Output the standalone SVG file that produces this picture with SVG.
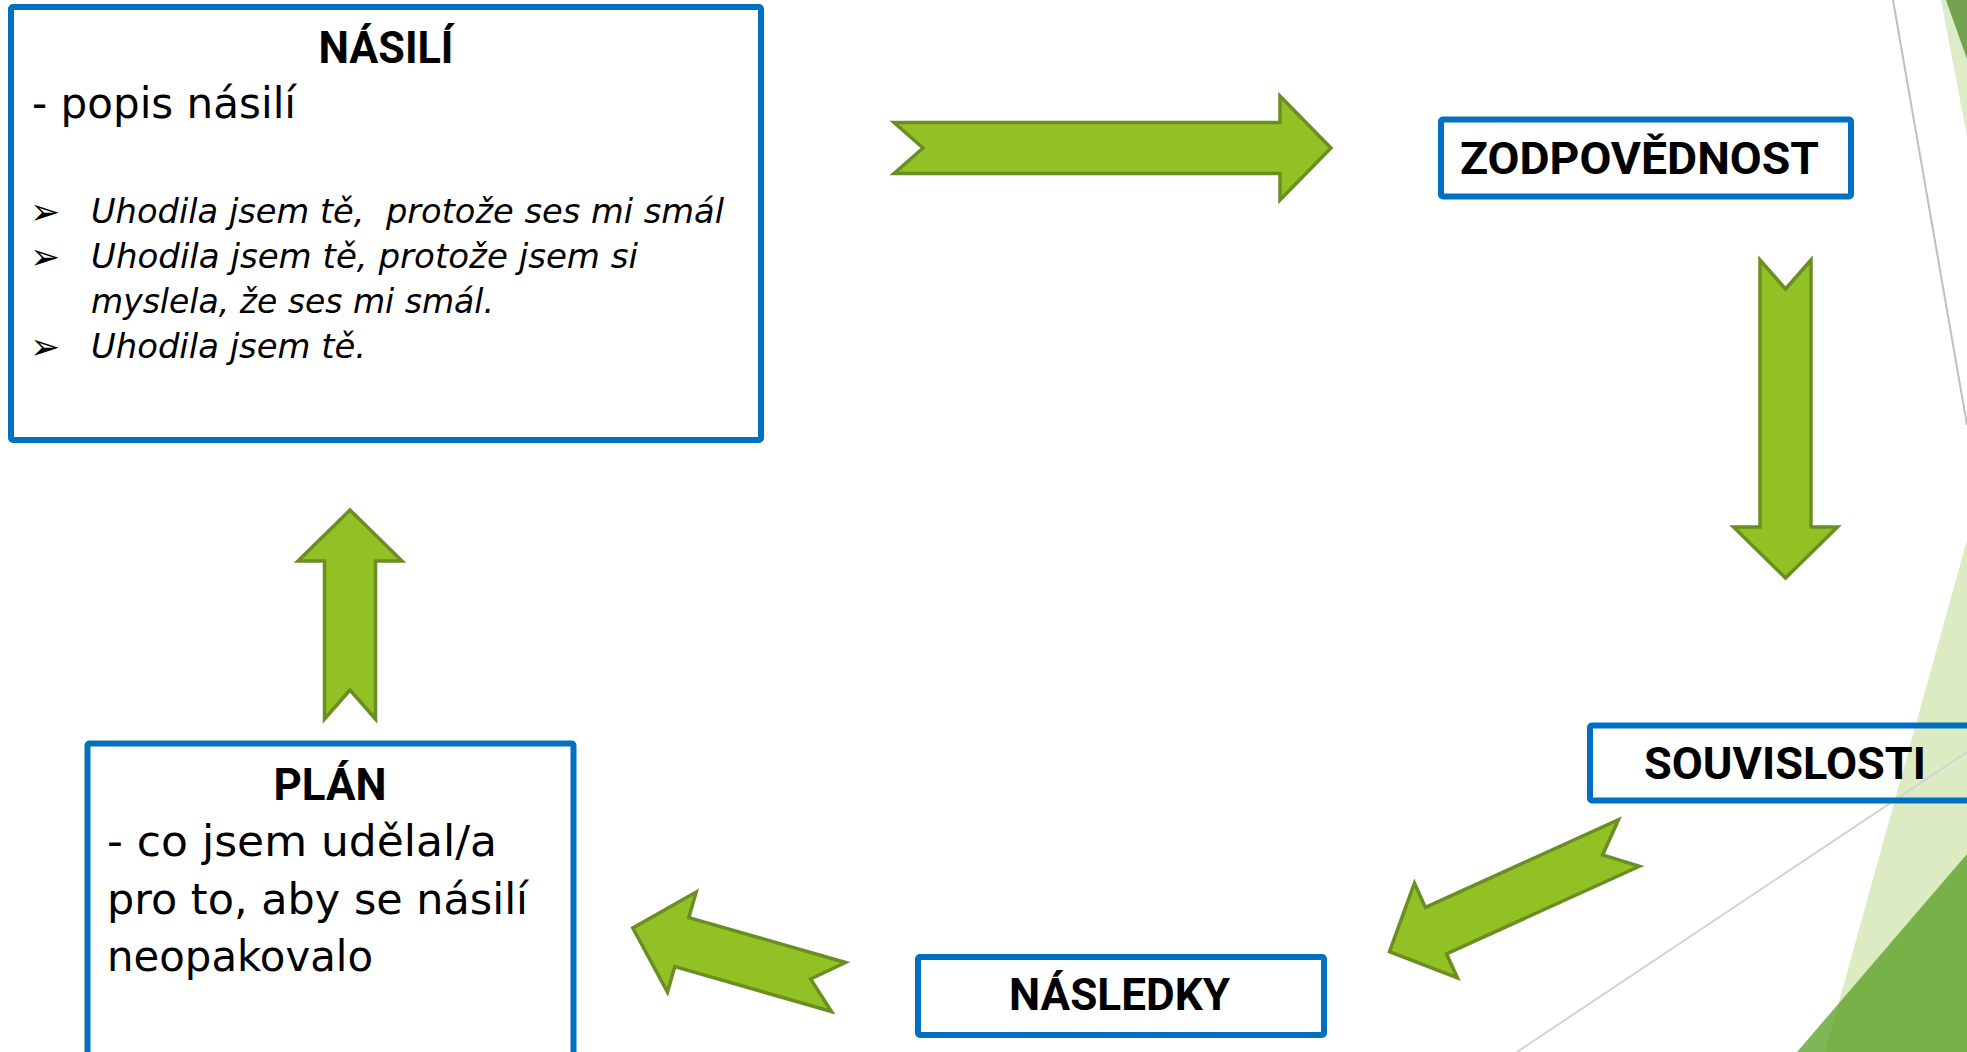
<svg xmlns="http://www.w3.org/2000/svg" width="1967" height="1052" viewBox="0 0 1967 1052">
<style>
.box{fill:none;stroke:#0070C0;stroke-width:6}
.arrow{fill:#92C125;stroke:#6B8E23;stroke-width:3.5;stroke-linejoin:miter}
.title{font-family:Roboto,"DejaVu Sans",sans-serif;font-weight:bold;fill:#000}
.body{font-family:"DejaVu Sans",sans-serif;fill:#000}
.it{font-family:"DejaVu Sans",sans-serif;font-style:italic;fill:#000;white-space:pre}
.bul{font-family:"DejaVu Sans",sans-serif;fill:#000}
</style>
<rect width="1967" height="1052" fill="#FFFFFF"/>
<g id="background">
<polygon points="1941,0 1967,0 1967,136" fill="#DDEBC6"/>
<polygon points="1946,0 1967,0 1967,59" fill="#73A150"/>
<line x1="1893" y1="0" x2="1967" y2="425" stroke="#BFBFBF" stroke-width="2"/>
<polygon points="1967,540 1825,1052 1967,1052" fill="#DDEBC2"/>
<polygon points="1967,854 1797,1052 1967,1052" fill="#509A18" fill-opacity="0.72"/>
<line x1="1517" y1="1052" x2="1967" y2="752" stroke="#D3D3D3" stroke-width="2"/>
</g>
<g id="connectors">
<polygon class="arrow" transform="translate(894,148)" points="0,-25.5 386,-25.5 386,-52 437,0 386,52 386,25.5 0,25.5 29,0"/>
<polygon class="arrow" transform="translate(1785.5,260) rotate(90)" points="0,-25.5 267,-25.5 267,-52 318,0 267,52 267,25.5 0,25.5 29,0"/>
<polygon class="arrow" transform="translate(1629,843) rotate(155.6)" points="0,-25.5 212,-25.5 212,-52 263,0 212,52 212,25.5 0,25.5 29,0"/>
<polygon class="arrow" transform="translate(838.5,987) rotate(196)" points="0,-25.5 163,-25.5 163,-52 214,0 163,52 163,25.5 0,25.5 29,0"/>
<polygon class="arrow" transform="translate(350,719) rotate(-90)" points="0,-25.5 158,-25.5 158,-52 209,0 158,52 158,25.5 0,25.5 29,0"/>
</g>
<g id="node-nasili">
<rect class="box" x="11" y="7" width="750" height="433" rx="2"/>
<text class="title" x="386" y="63" font-size="44" text-anchor="middle" textLength="135" lengthAdjust="spacingAndGlyphs">NÁSILÍ</text>
<text class="body" x="32" y="118" font-size="42" textLength="264" lengthAdjust="spacingAndGlyphs">- popis násilí</text>
<text class="bul" x="30" y="224" font-size="36">➢</text>
<text class="it" x="91" y="223" font-size="34" textLength="633" lengthAdjust="spacingAndGlyphs" xml:space="preserve">Uhodila jsem tě,  protože ses mi smál</text>
<text class="bul" x="30" y="269" font-size="36">➢</text>
<text class="it" x="91" y="268" font-size="34" textLength="547" lengthAdjust="spacingAndGlyphs">Uhodila jsem tě, protože jsem si</text>
<text class="it" x="91" y="313" font-size="34" textLength="403" lengthAdjust="spacingAndGlyphs">myslela, že ses mi smál.</text>
<text class="bul" x="30" y="359" font-size="36">➢</text>
<text class="it" x="91" y="358" font-size="34" textLength="275" lengthAdjust="spacingAndGlyphs">Uhodila jsem tě.</text>
</g>
<g id="node-zodpovednost">
<rect class="box" x="1441" y="119.5" width="410" height="77" rx="2"/>
<text class="title" x="1460" y="174" font-size="45" textLength="359" lengthAdjust="spacingAndGlyphs">ZODPOVĚDNOST</text>
</g>
<g id="node-souvislosti">
<rect class="box" x="1590" y="725.5" width="420" height="75" rx="2"/>
<text class="title" x="1644" y="779" font-size="45" textLength="282" lengthAdjust="spacingAndGlyphs">SOUVISLOSTI</text>
</g>
<g id="node-nasledky">
<rect class="box" x="918" y="957" width="406" height="78" rx="2"/>
<text class="title" x="1009" y="1010" font-size="44" textLength="221" lengthAdjust="spacingAndGlyphs">NÁSLEDKY</text>
</g>
<g id="node-plan">
<rect class="box" x="87.5" y="743.5" width="486" height="350" rx="2"/>
<text class="title" x="330" y="800" font-size="44" text-anchor="middle" textLength="113" lengthAdjust="spacingAndGlyphs">PLÁN</text>
<text class="body" x="107" y="856" font-size="43" textLength="390" lengthAdjust="spacingAndGlyphs">- co jsem udělal/a</text>
<text class="body" x="107" y="914" font-size="43" textLength="421" lengthAdjust="spacingAndGlyphs">pro to, aby se násilí</text>
<text class="body" x="107" y="971" font-size="43" textLength="266" lengthAdjust="spacingAndGlyphs">neopakovalo</text>
</g>
</svg>
